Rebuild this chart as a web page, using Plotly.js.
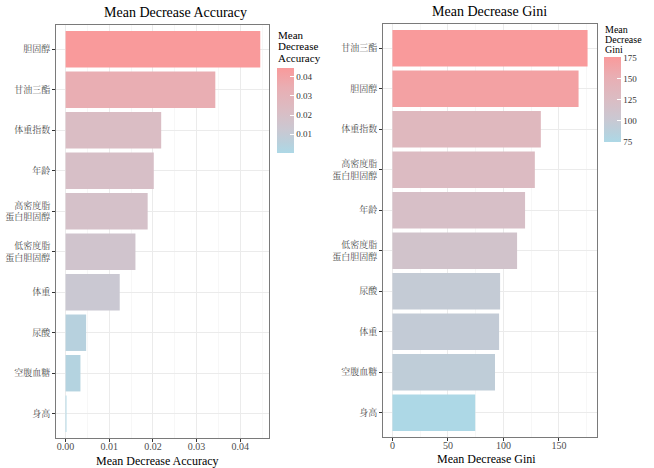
<!DOCTYPE html>
<html>
<head>
<meta charset="utf-8">
<script src="https://cdn.plot.ly/plotly-3.0.1.min.js"></script>
<style>
  html, body { margin: 0; padding: 0; background: #fff; }
  #chart { width: 654px; height: 468px; }
</style>
</head>
<body>
<div id="chart"></div>
<script>
// Variable importance from a random forest: two measures, each sorted high to low
const accVars = ['胆固醇', '甘油三酯', '体重指数', '年龄', '高密度脂<br>蛋白胆固醇',
                 '低密度脂<br>蛋白胆固醇', '体重', '尿酸', '空腹血糖', '身高'];
const accVals = [0.0446, 0.0343, 0.0219, 0.0202, 0.0188, 0.0160, 0.0124, 0.0047, 0.0034, 0.0002];

const giniVars = ['甘油三酯', '胆固醇', '体重指数', '高密度脂<br>蛋白胆固醇', '年龄',
                  '低密度脂<br>蛋白胆固醇', '尿酸', '体重', '空腹血糖', '身高'];
const giniVals = [175.8, 167.7, 133.7, 128.3, 119.5, 112.3, 97.0, 96.1, 92.4, 74.6];

const accTicks = [0.01, 0.02, 0.03, 0.04];
const giniTicks = [75, 100, 125, 150, 175];

const accLegendTitle = ['Mean', 'Decrease', 'Accuracy'];
const giniLegendTitle = ['Mean', 'Decrease', 'Gini'];

const W = 654, H = 468;
const px = v => v / W;          // horizontal pixel -> paper
const py = v => 1 - v / H;      // vertical pixel (from top) -> paper

const SERIF = '"Liberation Serif", "Noto Serif CJK SC", "Noto Sans CJK SC", serif';

// light blue -> salmon pink, with intermediate stops for a perceptual blend
const scale = [
  [0.00, '#ADD8E6'],
  [0.12, '#B9D0DC'],
  [0.27, '#CAC8D2'],
  [0.49, '#DABDC4'],
  [0.77, '#E9AEB3'],
  [1.00, '#F99A9B']
];

function colorbar(x, yTop, yBot, ticks, fmt) {
  return {
    x: px(x), xanchor: 'left',
    y: py((yTop + yBot) / 2), yanchor: 'middle',
    lenmode: 'pixels', len: yBot - yTop,
    thickness: 17, thicknessmode: 'pixels',
    outlinewidth: 0, xpad: 0, ypad: 0,
    tickvals: ticks, tickformat: fmt,
    ticks: 'inside', ticklen: 4, tickcolor: '#ffffff', tickwidth: 1,
    tickfont: { family: SERIF, size: 9, color: '#333' },
    title: { text: '' }
  };
}

const traces = [
  {
    type: 'bar', orientation: 'h',
    x: accVals, y: accVars,
    xaxis: 'x', yaxis: 'y',
    marker: {
      color: accVals, colorscale: scale,
      cmin: Math.min(...accVals), cmax: Math.max(...accVals),
      showscale: true,
      colorbar: colorbar(277, 68, 153, accTicks, '.2f')
    },
    hoverinfo: 'x+y'
  },
  {
    type: 'bar', orientation: 'h',
    x: giniVals, y: giniVars,
    xaxis: 'x2', yaxis: 'y2',
    marker: {
      color: giniVals, colorscale: scale,
      cmin: Math.min(...giniVals), cmax: Math.max(...giniVals),
      showscale: true,
      colorbar: colorbar(604, 57, 142, giniTicks, 'd')
    },
    hoverinfo: 'x+y'
  }
];

const axisCommon = {
  showline: true, mirror: true, linecolor: '#7a7a7a', linewidth: 1,
  ticks: 'outside', ticklen: 3, tickcolor: '#333', tickwidth: 1,
  gridcolor: '#ebebeb', gridwidth: 1, zeroline: false,
  tickfont: { family: SERIF, size: 10, color: '#4d4d4d' }
};

function label(text, x, y, size, anchor) {
  return {
    text: text, xref: 'paper', yref: 'paper', x: px(x), y: py(y),
    xanchor: anchor || 'center', yanchor: 'middle', showarrow: false,
    font: { family: SERIF, size: size, color: '#000' }
  };
}

const annotations = [
  label('Mean Decrease Accuracy', 175, 12, 14),
  label('Mean Decrease Gini', 489, 11, 14),
  label('Mean Decrease Accuracy', 157, 461, 12),
  label('Mean Decrease Gini', 486, 459, 12)
];
accLegendTitle.forEach((t, i) => annotations.push(label(t, 276, 35 + i * 11.5, 11, 'left')));
giniLegendTitle.forEach((t, i) => annotations.push(label(t, 603, 29 + i * 10.5, 10, 'left')));

const layout = {
  width: W, height: H,
  margin: { l: 0, r: 0, t: 0, b: 0 },
  paper_bgcolor: '#ffffff', plot_bgcolor: '#ffffff',
  showlegend: false,
  bargap: 0.1,
  xaxis: Object.assign({}, axisCommon, {
    domain: [px(56), px(269)], anchor: 'y',
    range: [-0.0022, 0.0466], dtick: 0.01, tick0: 0, tickformat: '.2f',
    ticklabelstandoff: -4,
    minor: { dtick: 0.005, tick0: 0, showgrid: true, gridcolor: '#f2f2f2', gridwidth: 0.6, ticks: '' }
  }),
  yaxis: Object.assign({}, axisCommon, {
    domain: [py(438), py(25)], anchor: 'x',
    type: 'category', categoryorder: 'array', categoryarray: accVars,
    range: [9.6, -0.6],
    tickfont: { family: SERIF, size: 9, color: '#4d4d4d' }
  }),
  xaxis2: Object.assign({}, axisCommon, {
    domain: [px(383), px(597)], anchor: 'y2',
    range: [-8.5, 184.3], dtick: 50, tick0: 0,
    ticklabelstandoff: -4,
    minor: { dtick: 25, tick0: 0, showgrid: true, gridcolor: '#f2f2f2', gridwidth: 0.6, ticks: '' }
  }),
  yaxis2: Object.assign({}, axisCommon, {
    domain: [py(437), py(24)], anchor: 'x2',
    type: 'category', categoryorder: 'array', categoryarray: giniVars,
    range: [9.6, -0.6],
    tickfont: { family: SERIF, size: 9, color: '#4d4d4d' }
  }),
  annotations: annotations
};

Plotly.newPlot('chart', traces, layout, { displayModeBar: false, staticPlot: true });
</script>
</body>
</html>
